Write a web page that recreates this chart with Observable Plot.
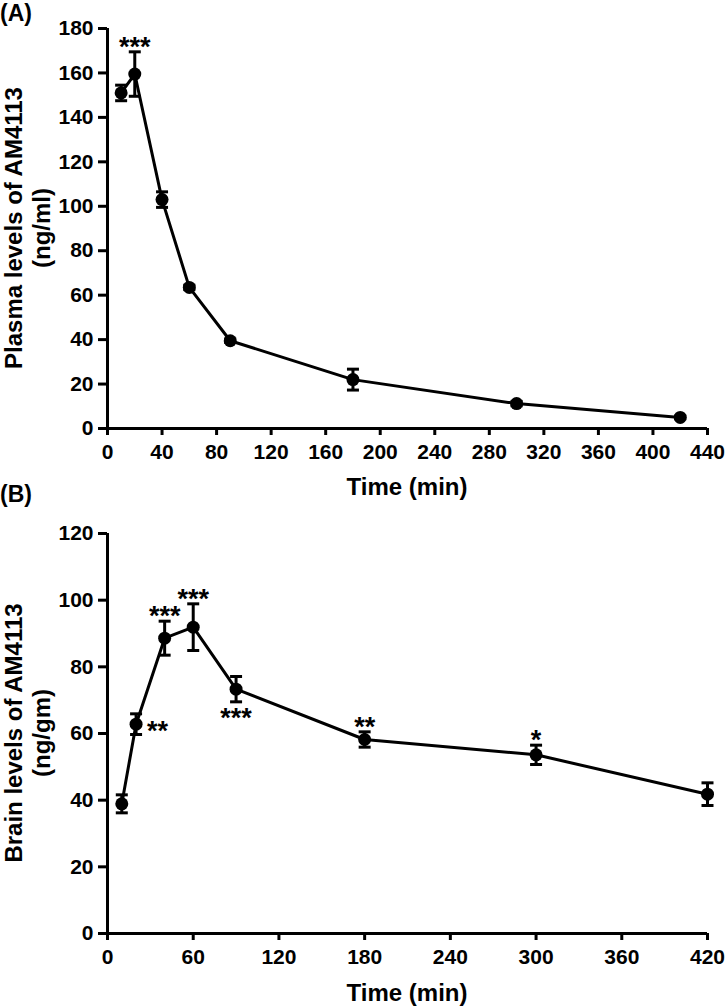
<!DOCTYPE html>
<html><head><meta charset="utf-8">
<script src="https://cdn.jsdelivr.net/npm/d3@7"></script>
<script src="https://cdn.jsdelivr.net/npm/@observablehq/plot@0.6"></script>
<style>
body{margin:0;background:#fff;}
#wrap{position:relative;width:726px;height:1006px;font-family:"Liberation Sans",Arial,sans-serif;font-weight:bold;color:#000;overflow:hidden;}
.panel{position:absolute;left:0;}
.tag{position:absolute;left:0;font-size:23px;line-height:23px;}
.ylab{position:absolute;font-size:24px;text-align:center;line-height:28px;white-space:nowrap;transform:translate(-50%,-50%) rotate(-90deg);}
.xlab{position:absolute;font-size:24px;line-height:24px;white-space:nowrap;transform:translate(-50%,-50%);}
</style>
</head><body>
<div id="wrap"></div>
<script>
// ---- data ----
const timesA = [10, 20, 40, 60, 90, 180, 300, 420];
const plasmaMean = [151, 159.5, 103, 63.5, 39.5, 22, 11.2, 5];
const plasmaSEM = [3.5, 10, 3.5, 1, 0.8, 4.7, 1, 0.6];
const plasmaSig = ["", "***", "", "", "", "", "", ""];

const timesB = [10, 20, 40, 60, 90, 180, 300, 420];
const brainMean = [38.9, 62.8, 88.6, 91.9, 73.3, 58.2, 53.6, 41.8];
const brainSEM = [2.7, 3.1, 5.1, 7.0, 3.8, 2.3, 2.9, 3.4];
const brainSig = ["", "**", "***", "***", "***", "**", "*", ""];
const brainSigSide = ["", "right", "above", "above", "below", "above", "above", ""];

const ticksXA = d3.range(0, 441, 40);
const ticksYA = d3.range(0, 181, 20);
const ticksXB = d3.range(0, 421, 60);
const ticksYB = d3.range(0, 121, 20);

const wrap = document.getElementById("wrap");

const capSymbol = {draw(ctx) { ctx.moveTo(-6, 0); ctx.lineTo(6, 0); }};

function panel({times, mean, sem, sig, side, xDomain, yDomain, xTicks, yTicks, height, marginTop, marginBottom}) {
  const data = times.map((t, i) => ({t, m: mean[i], e: sem[i], s: sig[i], side: side ? side[i] : "above"}));
  const caps = data.flatMap(d => [{t: d.t, y: d.m - d.e}, {t: d.t, y: d.m + d.e}]);
  const above = data.filter(d => d.s && d.side === "above");
  const below = data.filter(d => d.s && d.side === "below");
  const right = data.filter(d => d.s && d.side === "right");
  return Plot.plot({
    width: 726,
    height,
    marginLeft: 107,
    marginRight: 19,
    marginTop,
    marginBottom,
    style: {fontFamily: '"Liberation Sans", Arial, sans-serif', fontWeight: "bold", fontSize: "21px", color: "#000", background: "transparent"},
    x: {domain: xDomain, label: null},
    y: {domain: yDomain, label: null},
    marks: [
      Plot.axisY({ticks: yTicks, tickSize: 9, tickPadding: 5, strokeWidth: 3, fontSize: 21, label: null}),
      Plot.axisX({ticks: xTicks, tickSize: 7, tickPadding: 9, strokeWidth: 3, fontSize: 21, label: null}),
      Plot.ruleY([yDomain[0]], {strokeWidth: 3, stroke: "black"}),
      Plot.ruleX([xDomain[0]], {strokeWidth: 3, stroke: "black"}),
      Plot.ruleX(data, {x: "t", y1: d => d.m - d.e, y2: d => d.m + d.e, stroke: "black", strokeWidth: 3}),
      Plot.dot(caps, {x: "t", y: "y", symbol: capSymbol, stroke: "black", strokeWidth: 3, r: 6}),
      Plot.line(data, {x: "t", y: "m", stroke: "black", strokeWidth: 3}),
      Plot.dot(data, {x: "t", y: "m", r: 6.5, fill: "black", stroke: "none"}),
      Plot.text(above, {x: "t", y: d => d.m + d.e, text: "s", lineAnchor: "bottom", dy: 4, fontSize: 27, fontWeight: "bold", fill: "black"}),
      Plot.text(below, {x: "t", y: d => d.m - d.e, text: "s", lineAnchor: "top", dy: 6, fontSize: 27, fontWeight: "bold", fill: "black"}),
      Plot.text(right, {x: "t", y: "m", text: "s", textAnchor: "start", dx: 11, dy: 7, fontSize: 27, fontWeight: "bold", fill: "black"})
    ]
  });
}

function addDiv(cls, html, style) {
  const d = document.createElement("div");
  d.className = cls;
  d.innerHTML = html;
  Object.assign(d.style, style);
  wrap.appendChild(d);
}

const pA = panel({times: timesA, mean: plasmaMean, sem: plasmaSEM, sig: plasmaSig, side: null,
  xDomain: [0, 440], yDomain: [0, 180], xTicks: ticksXA, yTicks: ticksYA, height: 490, marginTop: 28, marginBottom: 62});
pA.classList.add("panel"); pA.style.top = "0px";
wrap.appendChild(pA);

const pB = panel({times: timesB, mean: brainMean, sem: brainSEM, sig: brainSig, side: brainSigSide,
  xDomain: [0, 420], yDomain: [0, 120], xTicks: ticksXB, yTicks: ticksYB, height: 516, marginTop: 43, marginBottom: 73});
pB.classList.add("panel"); pB.style.top = "490px";
wrap.appendChild(pB);

addDiv("tag", "(A)", {top: "2px"});
addDiv("tag", "(B)", {top: "483px"});
addDiv("ylab", "Plasma levels of AM4113<br>(ng/ml)", {left: "28px", top: "228px"});
addDiv("ylab", "Brain levels of AM4113<br>(ng/gm)", {left: "28px", top: "733px"});
addDiv("xlab", "Time (min)", {left: "407px", top: "487px"});
addDiv("xlab", "Time (min)", {left: "407px", top: "993px"});
</script>
</body></html>
